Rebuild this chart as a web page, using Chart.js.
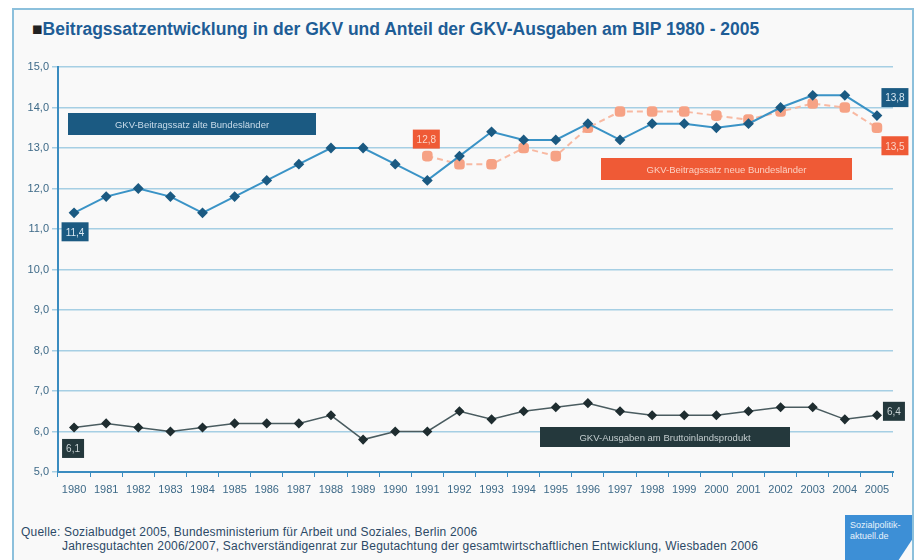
<!DOCTYPE html>
<html>
<head>
<meta charset="utf-8">
<script src="https://cdn.jsdelivr.net/npm/chart.js@4"></script>
<style>
  html, body { margin: 0; padding: 0; background: #ffffff; }
  body { width: 919px; height: 560px; position: relative; overflow: hidden; font-family: "Liberation Sans", Arial, sans-serif; }
  .frame { position: absolute; left: 12px; top: 8px; width: 898px; height: 570px; border: 2px solid #8cc0dc; background: #f9f9f9; }
  .title { position: absolute; left: 32px; top: 19px; font-size: 17.5px; font-weight: bold; color: #1e5d96; white-space: nowrap; }
  .title span { color: #222; }
  .footer { position: absolute; left: 21px; top: 525px; font-size: 12px; letter-spacing: 0.2px; color: #2c4966; line-height: 14px; white-space: nowrap; }
  .footer .l2 { padding-left: 41px; }
  .logo { position: absolute; left: 845px; top: 515px; width: 67px; height: 45px; background: #3d8fd6; color: #e8f2fb; font-size: 9px; line-height: 11px; padding: 5px 0 0 5px; box-sizing: border-box; clip-path: polygon(0 0, 100% 0, 100% 55%, 80% 100%, 0 100%); }
  canvas { position: absolute; left: 0; top: 0; }
</style>
</head>
<body>
<div class="frame"></div>
<div class="title"><span>■</span>Beitragssatzentwicklung in der GKV und Anteil der GKV-Ausgaben am BIP 1980 - 2005</div>
<div class="footer">
  <div>Quelle: Sozialbudget 2005, Bundesministerium für Arbeit und Soziales, Berlin 2006</div>
  <div class="l2">Jahresgutachten 2006/2007, Sachverständigenrat zur Begutachtung der gesamtwirtschaftlichen Entwicklung, Wiesbaden 2006</div>
</div>
<div class="logo">Sozialpolitik-<br>aktuell.de</div>
<canvas id="chart" width="919" height="560"></canvas>
<script>
// Daten
const years = ['1980', '1981', '1982', '1983', '1984', '1985', '1986', '1987', '1988', '1989', '1990', '1991', '1992',
    '1993', '1994', '1995', '1996', '1997', '1998', '1999', '2000', '2001', '2002', '2003', '2004', '2005'];
const beitragWest = [11.4, 11.8, 12.0, 11.8, 11.4, 11.8, 12.2, 12.6, 13.0, 13.0, 12.6, 12.2, 12.8,
    13.4, 13.2, 13.2, 13.6, 13.2, 13.6, 13.6, 13.5, 13.6, 14.0, 14.3, 14.3, 13.8];
const beitragOst = [null, null, null, null, null, null, null, null, null, null, null, 12.8, 12.6,
    12.6, 13.0, 12.8, 13.5, 13.9, 13.9, 13.9, 13.8, 13.7, 13.9, 14.1, 14.0, 13.5];
const ausgabenBIP = [6.1, 6.2, 6.1, 6.0, 6.1, 6.2, 6.2, 6.2, 6.4, 5.8, 6.0, 6.0, 6.5,
    6.3, 6.5, 6.6, 6.7, 6.5, 6.4, 6.4, 6.4, 6.5, 6.6, 6.6, 6.3, 6.4];
const yTicks = { min: 5, max: 15, step: 1 };

const fmt = v => v.toFixed(1).replace('.', ',');

// value boxes at first / last point + the coloured name boxes
const boxPlugin = {
    id: 'boxes',
    afterDatasetsDraw(chart) {
        const c = chart.ctx;
        const xs = chart.scales.x, ys = chart.scales.y;
        c.save();
        c.textAlign = 'center';
        c.textBaseline = 'middle';

        // value labels
        const valueBoxes = [
            { ds: 0, idx: 0, dx: 1, dy: 19, bg: '#1b5a82', fg: '#d9e8f2' },
            { ds: 0, idx: years.length - 1, dx: 18, dy: -18, bg: '#1b5a82', fg: '#d9e8f2' },
            { ds: 1, idx: 11, dx: -1, dy: -17, bg: '#ef5a36', fg: '#fbd5c8' },
            { ds: 1, idx: years.length - 1, dx: 18, dy: 18, bg: '#ef5a36', fg: '#fbd5c8' },
            { ds: 2, idx: 0, dx: -1, dy: 21, bg: '#24383c', fg: '#c9d2d4' },
            { ds: 2, idx: years.length - 1, dx: 17, dy: -4, bg: '#24383c', fg: '#c9d2d4' }
        ];
        c.font = '10px "Liberation Sans", Arial, sans-serif';
        valueBoxes.forEach(b => {
            const v = chart.data.datasets[b.ds].data[b.idx];
            const px = xs.getPixelForValue(b.idx) + b.dx;
            const py = ys.getPixelForValue(v) + b.dy;
            const w = b.ds === 2 ? 22 : 27, h = 19;
            c.fillStyle = b.bg;
            c.fillRect(px - w / 2, py - h / 2, w, h);
            c.fillStyle = b.fg;
            c.fillText(fmt(v), px, py + 1);
        });

        // name boxes
        const nameBoxes = [
            { text: 'GKV-Beitragssatz alte Bundesländer', left: 68, top: 113, w: 248, h: 22, bg: '#1b5a82', fg: '#c9dcea' },
            { text: 'GKV-Beitragssatz neue Bundesländer', left: 601, top: 158, w: 251, h: 22, bg: '#ef5a36', fg: '#fbd0c2' },
            { text: 'GKV-Ausgaben am Bruttoinlandsprodukt', left: 540, top: 427, w: 250, h: 20, bg: '#24383c', fg: '#c4cdcf' }
        ];
        c.font = '9.5px "Liberation Sans", Arial, sans-serif';
        nameBoxes.forEach(b => {
            c.fillStyle = b.bg;
            c.fillRect(b.left, b.top, b.w, b.h);
            c.fillStyle = b.fg;
            c.fillText(b.text, b.left + b.w / 2, b.top + b.h / 2 + 1);
        });
        c.restore();
    }
};

const ctx = document.getElementById('chart').getContext('2d');
const chart = new Chart(ctx, {
    type: 'line',
    data: {
        labels: years,
        datasets: [{
            label: 'GKV-Beitragssatz alte Bundesländer',
            data: beitragWest,
            borderColor: '#3a93c6',
            borderWidth: 2,
            pointStyle: 'rectRot',
            pointRadius: 4,
            pointBackgroundColor: '#1b5a82',
            pointBorderColor: '#1b5a82',
            tension: 0
        }, {
            label: 'GKV-Beitragssatz neue Bundesländer',
            data: beitragOst,
            borderColor: '#f8b9a2',
            borderWidth: 2,
            borderDash: [6, 4],
            pointStyle: 'rectRounded',
            pointRadius: 5,
            pointBackgroundColor: '#f6a285',
            pointBorderColor: '#f6a285',
            spanGaps: false,
            tension: 0
        }, {
            label: 'GKV-Ausgaben am Bruttoinlandsprodukt',
            data: ausgabenBIP,
            borderColor: '#4a5c60',
            borderWidth: 1.5,
            pointStyle: 'rectRot',
            pointRadius: 4,
            pointBackgroundColor: '#1f2d30',
            pointBorderColor: '#1f2d30',
            tension: 0
        }]
    },
    options: {
        responsive: false,
        animation: false,
        layout: { padding: { left: 8, right: 26, top: 67, bottom: 48 } },
        plugins: {
            legend: { display: false },
            tooltip: { enabled: false }
        },
        scales: {
            x: {
                offset: true,
                grid: { offset: true, drawOnChartArea: false, drawTicks: true, tickLength: 5, color: '#3a8cc0' },
                border: { color: '#3a8cc0', width: 2 },
                ticks: { autoSkip: false, maxRotation: 0, color: '#3e6a88', font: { size: 11 }, padding: 6 },
                afterFit: s => { s.height = 40; }
            },
            y: {
                min: yTicks.min,
                max: yTicks.max,
                grid: { color: '#a6cfe4', lineWidth: 1.5, drawTicks: true, tickLength: 6 },
                border: { color: '#3a8cc0', width: 2 },
                ticks: { stepSize: yTicks.step, callback: v => fmt(v), color: '#3e6a88', font: { size: 11 }, padding: 3 },
                afterFit: s => { s.width = 50; }
            }
        }
    },
    plugins: [boxPlugin]
});
</script>
</body>
</html>
